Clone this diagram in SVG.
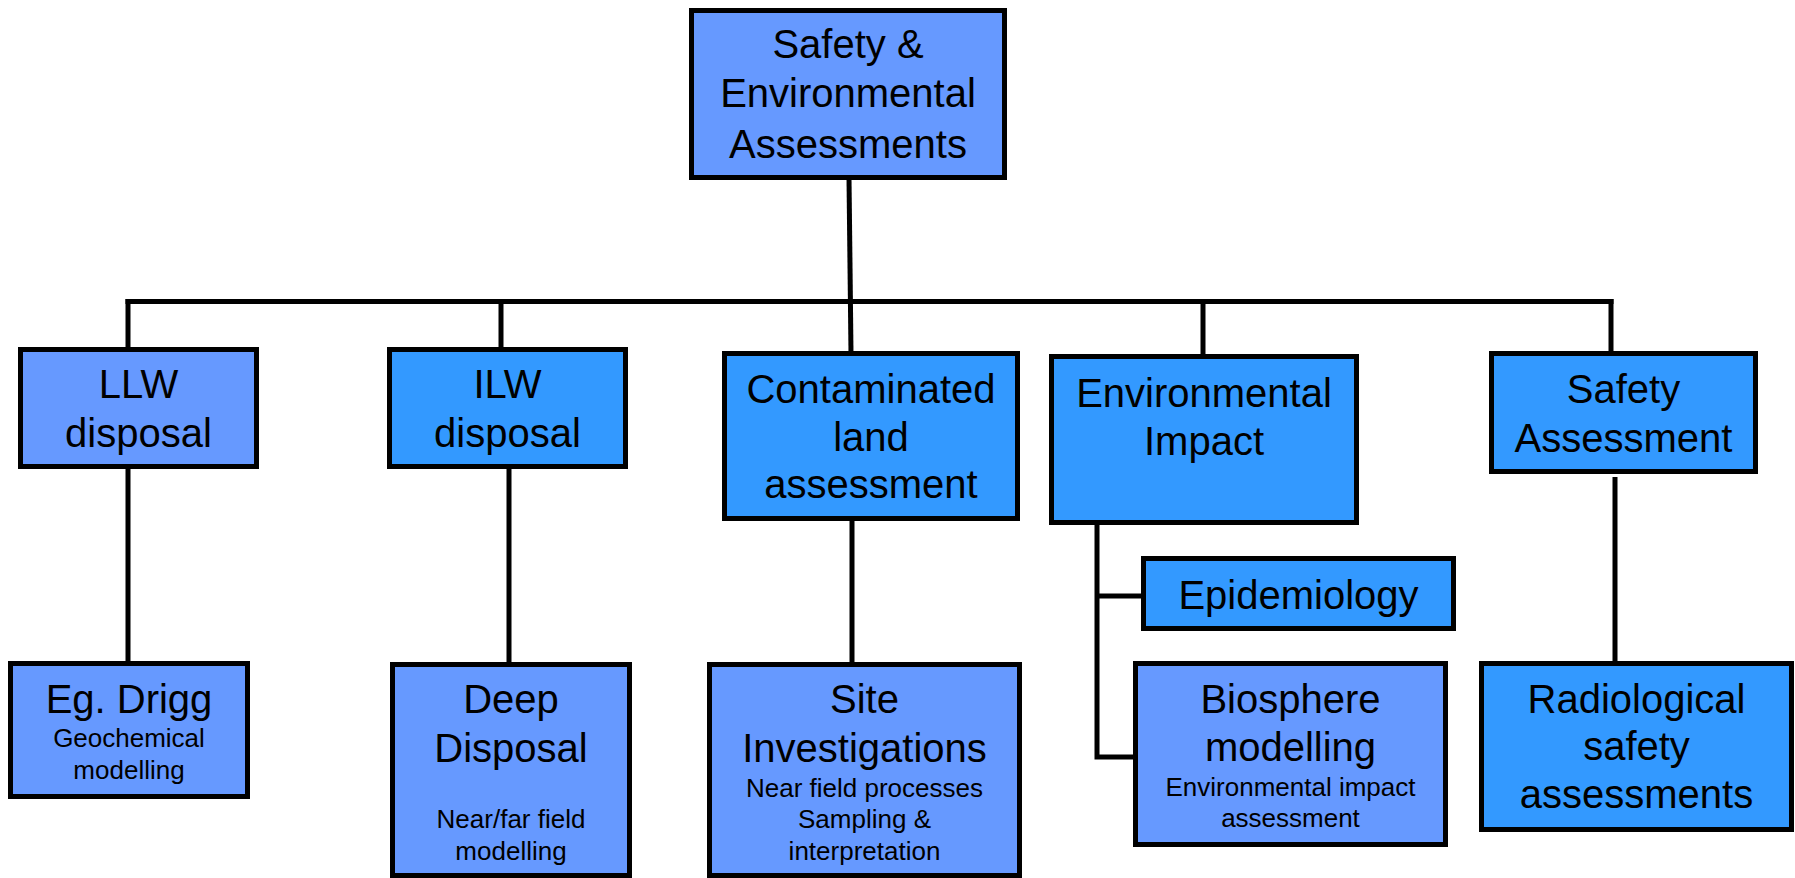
<svg xmlns="http://www.w3.org/2000/svg" width="1795" height="878" viewBox="0 0 1795 878">
<style>
.box{stroke:#000;stroke-width:5}
.l{fill:#6699FF}
.d{fill:#3399FF}
.t{font-family:"Liberation Sans",Arial,sans-serif;font-size:40px;fill:#000;text-anchor:middle}
.s{font-size:26px}
.c{stroke:#000;stroke-width:5;fill:none}
</style>
<rect width="1795" height="878" fill="#fff"/>
<g id="connectors">
<line class="c" x1="849" y1="178" x2="851" y2="353"/>
<line class="c" x1="125.5" y1="301.5" x2="1613.5" y2="301.5"/>
<line class="c" x1="128" y1="299" x2="128" y2="349"/>
<line class="c" x1="501" y1="301" x2="501" y2="349"/>
<line class="c" x1="1203" y1="301" x2="1203" y2="356"/>
<line class="c" x1="1611" y1="299" x2="1611" y2="359"/>
<line class="c" x1="128" y1="462" x2="128" y2="663"/>
<line class="c" x1="509" y1="462" x2="509" y2="664"/>
<line class="c" x1="852" y1="513" x2="852" y2="664"/>
<polyline class="c" points="1097,523 1097,757 1135,757"/>
<line class="c" x1="1097" y1="596" x2="1143" y2="596"/>
<line class="c" x1="1615" y1="477" x2="1615" y2="669"/>
</g>
<g id="node-root">
<rect class="box l" x="691.5" y="10.5" width="313" height="167"/>
<text class="t"><tspan x="848" y="58">Safety &amp;</tspan><tspan x="848" y="107">Environmental</tspan><tspan x="848" y="158">Assessments</tspan></text>
</g>
<g id="node-llw">
<rect class="box l" x="20.5" y="349.5" width="236" height="117"/>
<text class="t"><tspan x="138.5" y="398">LLW</tspan><tspan x="138.5" y="447">disposal</tspan></text>
</g>
<g id="node-ilw">
<rect class="box d" x="389.5" y="349.5" width="236" height="117"/>
<text class="t"><tspan x="507.5" y="398">ILW</tspan><tspan x="507.5" y="447">disposal</tspan></text>
</g>
<g id="node-contaminated">
<rect class="box d" x="724.5" y="353.5" width="293" height="165"/>
<text class="t"><tspan x="871" y="403">Contaminated</tspan><tspan x="871" y="451">land</tspan><tspan x="871" y="498">assessment</tspan></text>
</g>
<g id="node-envimpact">
<rect class="box d" x="1051.5" y="356.5" width="305" height="166"/>
<text class="t"><tspan x="1204" y="407">Environmental</tspan><tspan x="1204" y="455">Impact</tspan></text>
</g>
<g id="node-safety">
<rect class="box d" x="1491.5" y="353.5" width="264" height="118"/>
<text class="t"><tspan x="1623.5" y="403">Safety</tspan><tspan x="1623.5" y="452">Assessment</tspan></text>
</g>
<g id="node-epidemiology">
<rect class="box d" x="1143.5" y="558.5" width="310" height="70"/>
<text class="t" x="1298.5" y="609">Epidemiology</text>
</g>
<g id="node-drigg">
<rect class="box l" x="10.5" y="663.5" width="237" height="133"/>
<text class="t" x="129" y="713">Eg. Drigg</text>
<text class="t s"><tspan x="129" y="747">Geochemical</tspan><tspan x="129" y="779">modelling</tspan></text>
</g>
<g id="node-deep">
<rect class="box l" x="392.5" y="664.5" width="237" height="211"/>
<text class="t"><tspan x="511" y="713">Deep</tspan><tspan x="511" y="762">Disposal</tspan></text>
<text class="t s"><tspan x="511" y="828">Near/far field</tspan><tspan x="511" y="860">modelling</tspan></text>
</g>
<g id="node-site">
<rect class="box l" x="709.5" y="664.5" width="310" height="211"/>
<text class="t"><tspan x="864.5" y="713">Site</tspan><tspan x="864.5" y="762">Investigations</tspan></text>
<text class="t s"><tspan x="864.5" y="797">Near field processes</tspan><tspan x="864.5" y="828">Sampling &amp;</tspan><tspan x="864.5" y="860">interpretation</tspan></text>
</g>
<g id="node-biosphere">
<rect class="box l" x="1135.5" y="663.5" width="310" height="181"/>
<text class="t"><tspan x="1290.5" y="713">Biosphere</tspan><tspan x="1290.5" y="761">modelling</tspan></text>
<text class="t s"><tspan x="1290.5" y="796">Environmental impact</tspan><tspan x="1290.5" y="827">assessment</tspan></text>
</g>
<g id="node-radiological">
<rect class="box d" x="1481.5" y="663.5" width="310" height="166"/>
<text class="t"><tspan x="1636.5" y="713">Radiological</tspan><tspan x="1636.5" y="760">safety</tspan><tspan x="1636.5" y="808">assessments</tspan></text>
</g>
</svg>
